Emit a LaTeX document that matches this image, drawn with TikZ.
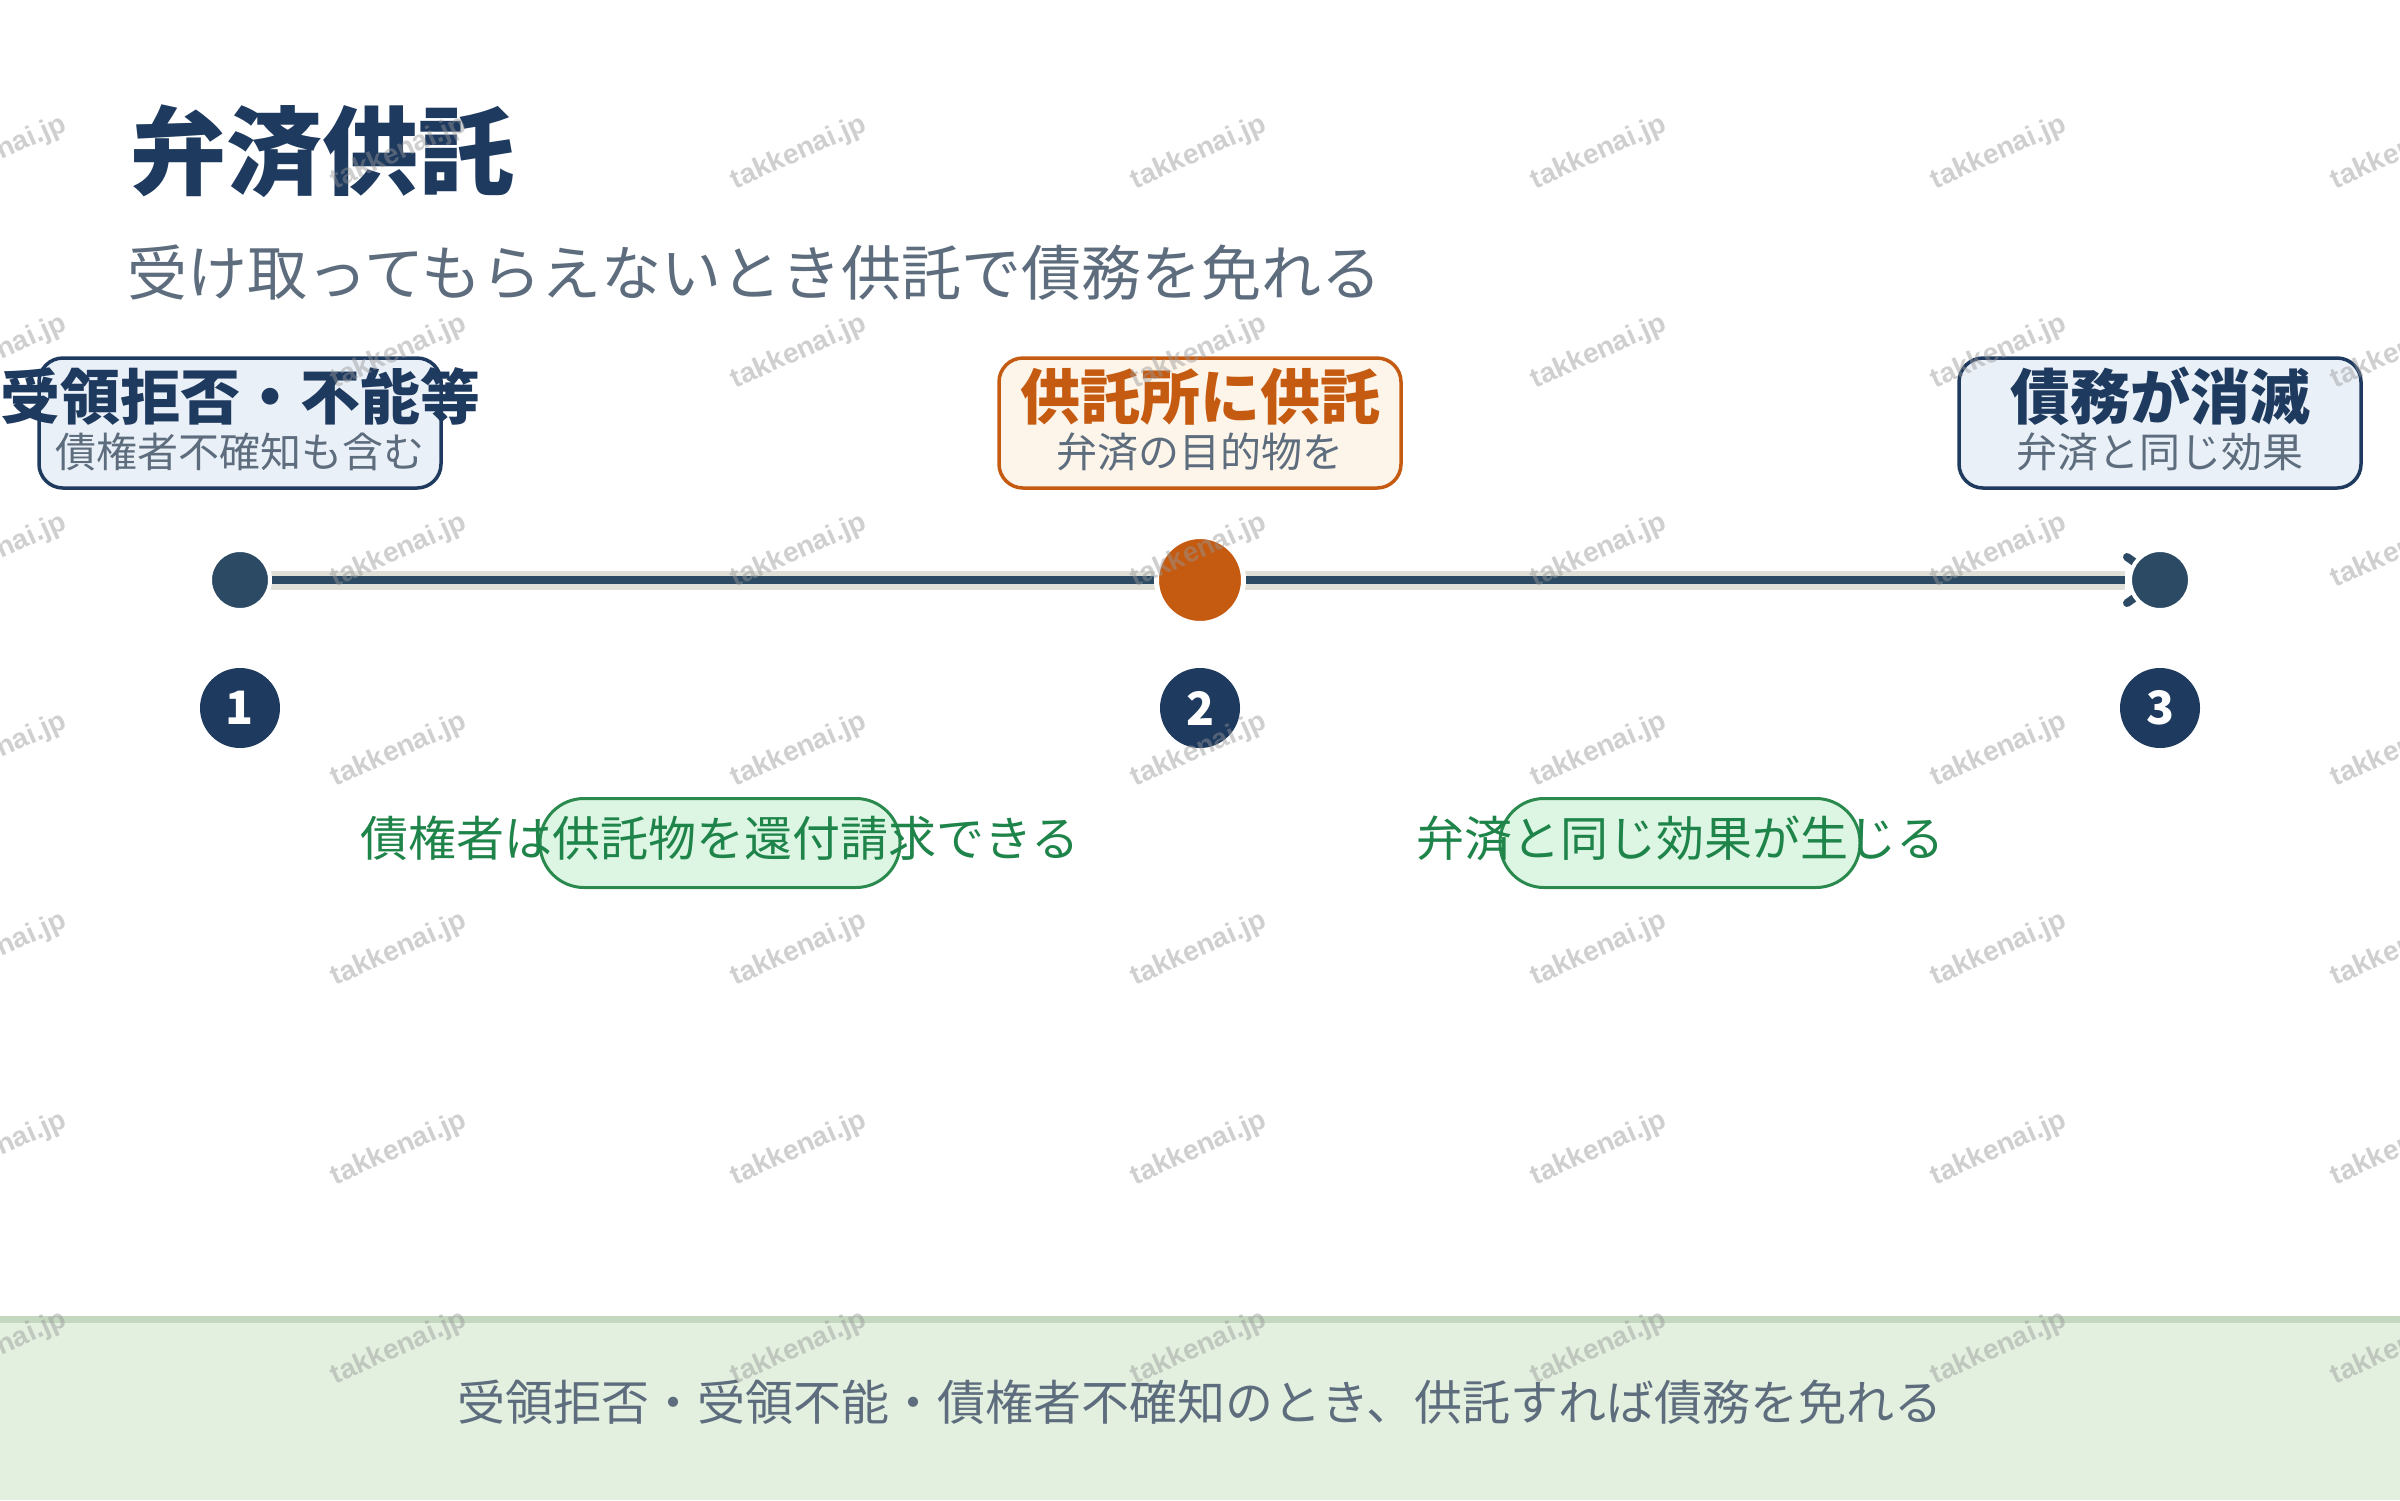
\documentclass[tikz,border=0pt]{standalone}
\usepackage{fontspec}
\setmainfont{Noto Sans CJK JP}
\newfontfamily\wmfont{Liberation Sans}
\usetikzlibrary{arrows.meta}
\definecolor{navy}{HTML}{1E3A5F}
\definecolor{slate}{HTML}{2C4A63}
\definecolor{bandc}{HTML}{E0E0D8}
\definecolor{orng}{HTML}{C55A11}
\definecolor{grayt}{HTML}{5D6D7E}
\definecolor{boxblue}{HTML}{EAF0F7}
\definecolor{boxcream}{HTML}{FDF5E9}
\definecolor{grn}{HTML}{1E8449}
\definecolor{pillline}{HTML}{2A8A4E}
\definecolor{pillfill}{HTML}{DDF5E3}
\definecolor{footfill}{HTML}{E4F0DF}
\definecolor{footline}{HTML}{C4D8C0}
\definecolor{wm}{HTML}{969696}
\begin{document}
\begin{tikzpicture}[x=1pt,y=-1pt,
  infobox/.style={rectangle, rounded corners=24pt, minimum width=402pt, minimum height=130pt, line width=3.5pt, inner sep=0pt},
  boxtitle/.style={anchor=base, inner sep=0pt, font=\fontsize{60pt}{62pt}\selectfont\bfseries},
  boxsub/.style={anchor=base, inner sep=0pt, text=grayt, font=\fontsize{41pt}{43pt}\selectfont},
  dotnode/.style={circle, inner sep=0pt, draw=white, line width=4pt, minimum size=60pt, fill=slate},
  badge/.style={circle, inner sep=0pt, minimum size=80pt, fill=navy, text=white, font=\fontsize{46pt}{48pt}\selectfont\bfseries},
  pill/.style={rectangle, rounded corners=44pt, minimum width=360pt, minimum height=89pt, fill=pillfill, draw=pillline, line width=3pt, inner sep=0pt},
  glabel/.style={anchor=base, inner sep=0pt, text=grn, font=\fontsize{48pt}{50pt}\selectfont},
  wmark/.style={rotate=24, text=wm, opacity=0.45, inner sep=0pt, font=\wmfont\bfseries\fontsize{28pt}{30pt}\selectfont}
]
\fill[white] (0,0) rectangle (2400,1500);
\useasboundingbox (0,0) rectangle (2400,1500);

% title
\node[anchor=base west, inner sep=0pt, text=navy, font=\fontsize{96pt}{100pt}\selectfont\bfseries] (title) at (130,187) {弁済供託};
\node[anchor=base west, inner sep=0pt, text=grayt, font=\fontsize{60pt}{62pt}\selectfont] (subtitle) at (127,295) {受け取ってもらえないとき供託で債務を免れる};

% timeline anchors
\coordinate (c1) at (240,580);
\coordinate (c2) at (1200,580);
\coordinate (c3) at (2160,580);

\draw[bandc, line width=19pt] (c1) -- ([xshift=-35pt]c3);
\draw[slate, line width=8pt] (c1) -- ([xshift=-35pt]c3);
\draw[slate, line width=8pt, line cap=round, line join=round]
  ([shift={(-33,-23)}]c3) -- (c3) -- ([shift={(-33,23)}]c3);

\node[dotnode] (d1) at (c1) {};
\node[circle, inner sep=0pt, draw=white, line width=5pt, minimum size=87pt, fill=orng] (d2) at (c2) {};
\node[dotnode] (d3) at (c3) {};

\node[badge] (b1) at (240,708) {1};
\node[badge] (b2) at (1200,708) {2};
\node[badge] (b3) at (2160,708) {3};

% boxes
\node[infobox, fill=boxblue, draw=navy] (box1) at (240,423) {};
\node[boxtitle, text=navy] (t1) at (240,419) {受領拒否・不能等};
\node[boxsub] (s1) at (240,467) {債権者不確知も含む};

\node[infobox, fill=boxcream, draw=orng] (box2) at (1200,423) {};
\node[boxtitle, text=orng] (t2) at (1200,419) {供託所に供託};
\node[boxsub] (s2) at (1200,467) {弁済の目的物を};

\node[infobox, fill=boxblue, draw=navy] (box3) at (2160,423) {};
\node[boxtitle, text=navy] (t3) at (2160,419) {債務が消滅};
\node[boxsub] (s3) at (2160,467) {弁済と同じ効果};

% green labels
\node[pill] (p1) at (720,843) {};
\node[glabel] (g1) at (720,856) {債権者は供託物を還付請求できる};
\node[pill] (p2) at (1680,843) {};
\node[glabel] (g2) at (1680,856) {弁済と同じ効果が生じる};

% footer
\fill[footfill] (0,1316) rectangle (2400,1500);
\fill[footline] (0,1316) rectangle (2400,1323);
\node[anchor=base, inner sep=0pt, text=grayt, font=\fontsize{48pt}{50pt}\selectfont] (foot) at (1200,1420) {受領拒否・受領不能・債権者不確知のとき、供託すれば債務を免れる};

% watermarks
\foreach \i in {0,...,6}{
  \foreach \j in {0,...,6}{
    \node[wmark] (wm-\i-\j) at (-1+400*\i, 153+199.2*\j) {takkenai.jp};
  }
}
\end{tikzpicture}
\end{document}
